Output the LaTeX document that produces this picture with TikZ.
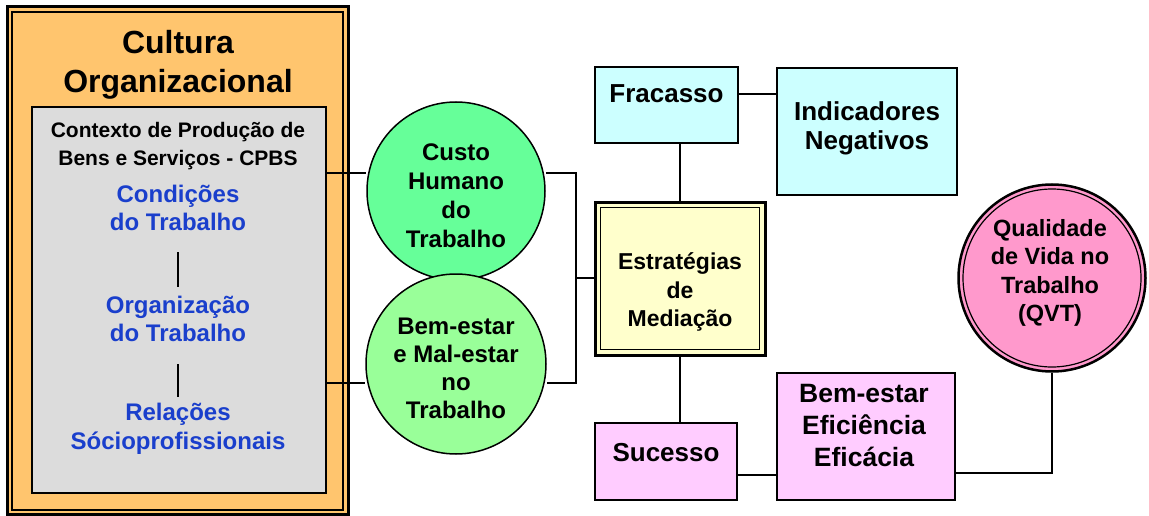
\documentclass[tikz,border=0pt]{standalone}
\usepackage{fontspec}
\setmainfont{Liberation Sans}
\definecolor{corange}{HTML}{FFC56E}
\definecolor{cgray}{HTML}{DCDCDC}
\definecolor{cgreenA}{HTML}{66FF99}
\definecolor{cgreenB}{HTML}{99FF99}
\definecolor{cyellow}{HTML}{FFFFCC}
\definecolor{ccyan}{HTML}{CCFFFF}
\definecolor{cpinkbox}{HTML}{FFCCFF}
\definecolor{cpink}{HTML}{FF99CC}
\definecolor{cblue}{HTML}{1A3FCC}
\tikzset{
  txt/.style={font=\bfseries, align=center, inner sep=0pt},
  conn/.style={draw=black, line width=1.3pt},
  boxA/.style={draw=black, line width=1.5pt, inner sep=0pt},
}
\begin{document}
\begin{tikzpicture}[x=1pt,y=-1pt]
\useasboundingbox (0,0) rectangle (1149,516);
% Cultura
\draw[line width=3pt, fill=corange] (7,7) rectangle (348,514);
\draw[line width=1.5pt] (12,12) rectangle (343,510);
\node[txt, font=\bfseries\fontsize{32}{39}\selectfont] (cult) at (178,65) {Cultura\\Organizacional};
\draw[line width=1.5pt, fill=cgray] (32,107) rectangle (326,493);
\coordinate (grayA) at (326,173);
\coordinate (grayB) at (326,383);
\node[txt, font=\bfseries\fontsize{21}{28}\selectfont] (ctx) at (178,146) {Contexto de Produção de\\Bens e Serviços - CPBS};
\node[txt, text=cblue, font=\bfseries\fontsize{24}{28.5}\selectfont] (cond) at (178,208) {Condições\\do Trabalho};
\node[txt, text=cblue, font=\bfseries\fontsize{24}{28.5}\selectfont] (org) at (178,319) {Organização\\do Trabalho};
\node[txt, text=cblue, font=\bfseries\fontsize{24}{28.5}\selectfont] (rel) at (178,429) {Relações\\Sócioprofissionais};
\coordinate (s1a) at (178,252); \coordinate (s1b) at (178,287);
\coordinate (s2a) at (178,364); \coordinate (s2b) at (178,397);
\draw[line width=1.3pt] (s1a) -- (s1b);
\draw[line width=1.3pt] (s2a) -- (s2b);
% circles
\node[circle, draw, line width=1.5pt, fill=cgreenA, minimum size=178pt, inner sep=0pt] (custo) at (456,191) {};
\node[circle, draw, line width=1.5pt, fill=cgreenB, minimum size=180pt, inner sep=0pt] (bem) at (456,364) {};
\node[txt, font=\bfseries\fontsize{24}{29}\selectfont] (custot) at (456,196) {Custo\\Humano\\do\\Trabalho};
\node[txt, font=\bfseries\fontsize{24}{28}\selectfont] (bemt) at (456,368) {Bem-estar\\e Mal-estar\\no\\Trabalho};
\coordinate (jA) at (576,173);
\coordinate (jB) at (576,383);
\coordinate (jM) at (576,278);
\draw[conn] (grayA) -- (grayA -| custo.west) ;
\draw[conn] (grayB) -- (grayB -| bem.west);
% Estrategias
\node[draw, line width=3pt, fill=cyellow, minimum width=170pt, minimum height=153pt] (estr) at (680,278.5) {};
\node[draw, line width=1.3pt, minimum width=159pt, minimum height=142pt] (estri) at (680,278.5) {};
\node[txt, font=\bfseries\fontsize{23}{28.5}\selectfont] (estrt) at (680,292) {Estratégias\\de\\Mediação};
% Fracasso
\node[boxA, fill=ccyan, minimum width=143pt, minimum height=76pt] (frac) at (666.5,105) {};
\node[txt, font=\bfseries\fontsize{26}{30}\selectfont] (fract) at (666.5,94) {Fracasso};
\node[boxA, fill=ccyan, minimum width=180pt, minimum height=127pt] (ind) at (867,131.5) {};
\node[txt, font=\bfseries\fontsize{26}{29}\selectfont] (indt) at (867,128) {Indicadores\\Negativos};
% Sucesso
\node[boxA, fill=cpinkbox, minimum width=142pt, minimum height=77pt] (suc) at (666,461.5) {};
\node[txt, font=\bfseries\fontsize{26}{30}\selectfont] (suct) at (666,453) {Sucesso};
\node[boxA, fill=cpinkbox, minimum width=178pt, minimum height=127pt] (bee) at (866,436.5) {};
\node[txt, font=\bfseries\fontsize{26.5}{32}\selectfont] (beet) at (864,426) {Bem-estar\\Eficiência\\Eficácia};
% QVT
\node[circle, draw, line width=2.5pt, fill=cpink, minimum size=187pt, inner sep=0pt] (qvt) at (1052,278) {};
\draw[line width=1.2pt] (qvt.center) circle (89pt);
\node[txt, font=\bfseries\fontsize{23.5}{28.5}\selectfont] (qvtt) at (1050,273) {Qualidade\\de Vida no\\Trabalho\\(QVT)};
% connectors
\draw[conn] (custo.east |- jA) -- (jA) -- (jB) -- (bem.east |- jB);
\draw[conn] (jM) -- (estr.west |- jM);
\draw[conn] (frac.east |- fract) -- (ind.west |- fract);
\draw[conn] (frac.south -| estr.north) -- (estr.north);
\draw[conn] (estr.south) -- (estr.south |- suc.north);
\coordinate (sucE) at (737,475);
\draw[conn] (sucE -| suc.east) -- (sucE -| bee.west);
\coordinate (beeE) at (955,473);
\draw[conn] (beeE -| bee.east) -- (beeE -| qvt.south) -- (qvt.south);
\end{tikzpicture}
\end{document}
